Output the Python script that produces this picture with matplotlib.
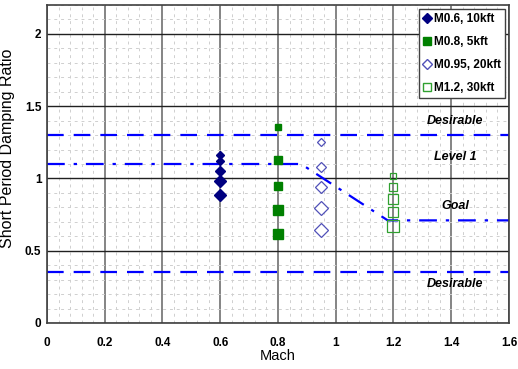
import numpy as np
import matplotlib.pyplot as plt
from matplotlib.ticker import MultipleLocator

# data
mach_06 = [0.6, 0.6, 0.6, 0.6, 0.6]
zeta_06 = [1.16, 1.12, 1.055, 0.98, 0.885]
mach_08 = [0.8, 0.8, 0.8, 0.8, 0.8]
zeta_08 = [1.355, 1.13, 0.95, 0.785, 0.615]
mach_095 = [0.95, 0.95, 0.95, 0.95, 0.95]
zeta_095 = [1.25, 1.08, 0.94, 0.795, 0.645]
mach_12 = [1.2, 1.2, 1.2, 1.2, 1.2]
zeta_12 = [1.015, 0.94, 0.855, 0.765, 0.67]

series_labels = ["M0.6, 10kft", "M0.8, 5kft", "M0.95, 20kft", "M1.2, 30kft"]

x_ticks = [0, 0.2, 0.4, 0.6, 0.8, 1.0, 1.2, 1.4, 1.6]
x_tick_labels = ["0", "0.2", "0.4", "0.6", "0.8", "1", "1.2", "1.4", "1.6"]
y_ticks = [0, 0.5, 1.0, 1.5, 2.0]
y_tick_labels = ["0", "0.5", "1", "1.5", "2"]

desirable_upper = 1.3
desirable_lower = 0.35
goal_mach = [0.0, 0.88, 1.18, 1.6]
goal_zeta = [1.1, 1.1, 0.71, 0.71]

region_labels = ["Desirable", "Level 1", "Goal", "Desirable"]
region_label_y = [1.40, 1.145, 0.81, 0.27]

plt.rcParams["font.family"] = ["Liberation Sans", "DejaVu Sans"]

fig = plt.figure(figsize=(5.18, 3.69), dpi=100)
ax = fig.add_axes([0.0907, 0.1247, 0.8919, 0.8617])

ax.set_xlim(0, 1.6)
ax.set_ylim(0, 2.2)
ax.set_xticks(x_ticks)
ax.set_xticklabels(x_tick_labels, fontweight="bold", fontsize=8.5)
ax.set_yticks(y_ticks)
ax.set_yticklabels(y_tick_labels, fontweight="bold", fontsize=8.5)
ax.xaxis.set_minor_locator(MultipleLocator(0.04))
ax.yaxis.set_minor_locator(MultipleLocator(0.1))
ax.grid(which="minor", color="#cfcfcf", linestyle=(0, (3, 4)), linewidth=0.7)
ax.xaxis.grid(which="major", color="#707070", linestyle="-", linewidth=1.2)
ax.yaxis.grid(which="major", color="#202020", linestyle="-", linewidth=1.0)
ax.set_axisbelow(True)
ax.tick_params(which="both", length=0)
ax.tick_params(axis="x", pad=10)
ax.tick_params(axis="y", pad=4)
for s in ax.spines.values():
    s.set_color("#404040")
    s.set_linewidth(1.2)

# requirement boundaries
ax.axhline(desirable_upper, color="#0000ff", linestyle=(0, (7.5, 4.5)), linewidth=1.6)
ax.axhline(desirable_lower, color="#0000ff", linestyle=(0, (7.5, 4.5)), linewidth=1.6)
ax.plot(goal_mach, goal_zeta, color="#0000ff", linestyle=(0, (8, 4, 1.5, 4)),
        linewidth=1.6)

for txt, y in zip(region_labels, region_label_y):
    ax.text(1.413, y, txt, ha="center", va="center", fontsize=9,
            fontstyle="italic", fontweight="bold")

# markers grow toward the lower points, as in the reference
ramp = np.linspace(4.5, 7.5, 5)
for x, y, ms in zip(mach_06, zeta_06, ramp):
    ax.plot(x, y, marker="D", color="#000080", markersize=ms * 0.85, linestyle="none")
for x, y, ms in zip(mach_08, zeta_08, ramp):
    ax.plot(x, y, marker="s", color="#008000", markersize=ms, linestyle="none")
for x, y, ms in zip(mach_095, zeta_095, ramp):
    ax.plot(x, y, marker="D", markerfacecolor="white", markeredgecolor="#5050b8",
            markersize=ms, linestyle="none", markeredgewidth=0.9)
for x, y, ms in zip(mach_12, zeta_12, ramp):
    ax.plot(x, y, marker="s", markerfacecolor="none", markeredgecolor="#30a030",
            markersize=ms * 1.1, linestyle="none", markeredgewidth=0.9)

handles = [
    plt.Line2D([], [], marker="D", color="#000080", linestyle="none", markersize=5),
    plt.Line2D([], [], marker="s", color="#008000", linestyle="none", markersize=6),
    plt.Line2D([], [], marker="D", markerfacecolor="white", markeredgecolor="#5050b8",
               linestyle="none", markersize=5),
    plt.Line2D([], [], marker="s", markerfacecolor="white", markeredgecolor="#30a030",
               linestyle="none", markersize=6),
]
leg = ax.legend(handles, series_labels, loc="upper right",
                prop={"weight": "bold", "size": 8.5}, frameon=True, fancybox=False,
                edgecolor="#404040", framealpha=1, handlelength=0.6,
                handletextpad=0.35, borderpad=0.35, labelspacing=0.95,
                borderaxespad=0.3)
leg.get_frame().set_linewidth(1.0)

ax.set_xlabel("Mach", fontsize=10.5, labelpad=0)
ax.set_ylabel("Short Period Damping Ratio", fontsize=11.5)
ax.yaxis.set_label_coords(-0.069, 0.55)

fig.savefig("out.png", dpi=100)
